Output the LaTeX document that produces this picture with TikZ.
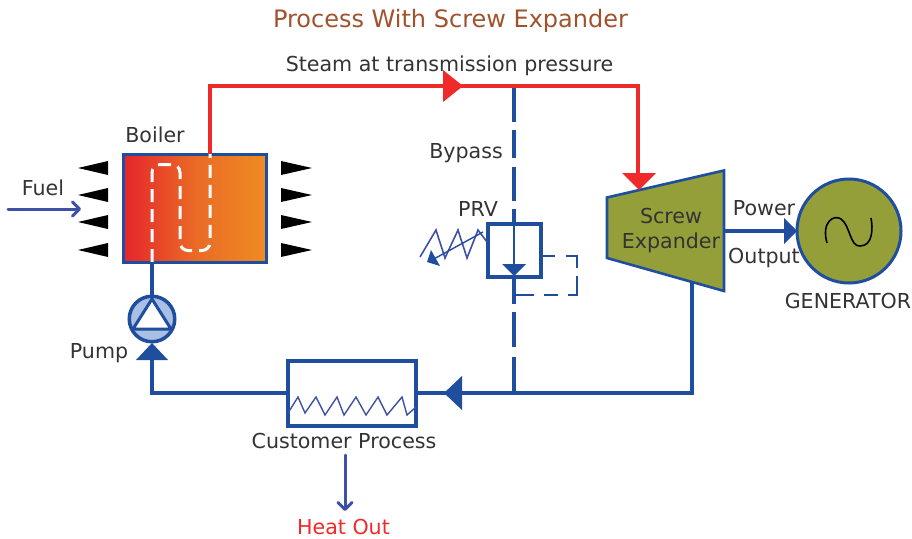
\documentclass[tikz,border=0pt]{standalone}
\usepackage{fontspec}
\setmainfont{DejaVu Sans}
\definecolor{pipeblue}{HTML}{1F4E9E}
\definecolor{fuelblue}{HTML}{3F51A5}
\definecolor{steamred}{HTML}{EE2A2A}
\definecolor{boilred}{HTML}{E5252B}
\definecolor{boilmid}{HTML}{EA6A26}
\definecolor{boilorange}{HTML}{EE8C22}
\definecolor{olive}{HTML}{949F3A}
\definecolor{titlebrown}{HTML}{A0522D}
\definecolor{txt}{HTML}{333333}
\definecolor{pumpfill}{HTML}{A9C0E4}
\usetikzlibrary{arrows.meta,calc}
\tikzset{
 lbl/.style={font=\fontsize{20.6}{24}\selectfont,text=txt,inner sep=0pt},
 pipe/.style={draw=pipeblue,line width=3.2pt},
 steam/.style={draw=steamred,line width=3.2pt},
 thin pipe/.style={draw=pipeblue,line width=1.4pt},
 tipblue/.style={fill=pipeblue,draw=none},
 tipred/.style={fill=steamred,draw=none},
 flame/.style={fill=black,draw=none},
 coil/.style={draw=white,line width=3pt,dash pattern=on 13pt off 7pt},
 box/.style={draw=pipeblue,line width=3.5pt,inner sep=0pt,outer sep=0pt,anchor=north west},
 openarrow/.style={draw=fuelblue,line width=3pt,line cap=round,-{Straight Barb[length=7pt,width=14pt,round]}},
}
\begin{document}
\begin{tikzpicture}[x=1pt,y=-1pt]
\useasboundingbox (0,0) rectangle (912,538);
% labels
\node[lbl,text=titlebrown,font=\fontsize{24}{28}\selectfont] (title) at (450.5,20.5) {Process With Screw Expander};
\node[lbl] (steamlbl) at (449.5,65.5) {Steam at transmission pressure};
\node[lbl] (boilerlbl) at (155,134.5) {Boiler};
\node[lbl] (fuellbl) at (43,187.5) {Fuel};
\node[lbl] (pumplbl) at (99,353) {Pump};
\node[lbl] (bypasslbl) at (466,153.5) {Bypass};
\node[lbl] (prvlbl) at (478,208.5) {PRV};
\node[lbl] (custlbl) at (344,441) {Customer Process};
\node[lbl,text=steamred] (heatlbl) at (343.5,526.5) {Heat Out};
\node[lbl] (powerlbl) at (764,208) {Power};
\node[lbl] (outputlbl) at (764,257.5) {Output};
\node[lbl] (genlbl) at (848,300.5) {GENERATOR};
% boiler
\node[box,left color=boilred,right color=boilorange,middle color=boilmid,shading angle=90,minimum width=143pt,minimum height=108pt] (boiler) at (123.5,154.5) {};
% bypass
\coordinate (tee1) at (514,86);
\coordinate (tee2) at (514,393);
\coordinate (prvtop) at (514,224);
\coordinate (prvbot) at (514,278);
\draw[draw=pipeblue,line width=3.2pt,dash pattern=on 36pt off 8pt on 28pt off 9pt on 34pt off 8pt on 30pt off 0pt] (tee1) -- (prvtop);
\draw[draw=pipeblue,line width=3.2pt,dash pattern=on 26pt off 8pt on 35pt off 10pt on 50pt off 0pt] (prvbot) -- (tee2);
% steam
\coordinate (s1) at (210,86);
\coordinate (s2) at (638,86);
\coordinate (boilout) at (210,154);
\coordinate (expin) at (638,176);
\draw[steam] (boilout) -- (s1) -- (s2) -- (expin);
\path[tipred] (443,70) -- (463,86) -- (443,102) -- cycle;
% coil
\coordinate (coilA) at (152,262);
\coordinate (coilB) at (210,154);
\draw[coil,rounded corners=8pt] (coilA) -- (152,164.5) -- (180,164.5) -- (180,250.5) -- (210,250.5) -- (coilB);
% flames
\foreach \yy in {168,195,222,250}{
 \path[flame] (108,\yy-7) -- (78,\yy) -- (108,\yy+7) -- cycle;
 \path[flame] (281,\yy-7) -- (312,\yy) -- (281,\yy+7) -- cycle;
}
% fuel
\coordinate (fuelstart) at (8,209);
\coordinate (fuelend) at (81,209);
\draw[openarrow] (fuelstart) -- (fuelend);
% expander
\filldraw[fill=olive,draw=pipeblue,line width=2.6pt] (607,197.5) -- (724,170.5) -- (724,291) -- (607,258) -- cycle;
\path[tipred] (622,173) -- (656,173) -- (639,190) -- cycle;
\node[lbl,align=center,font=\fontsize{20.6}{25}\selectfont] (explbl) at (671,230) {Screw\\Expander};
% generator
\node[circle,draw=pipeblue,fill=olive,line width=3pt,minimum size=104pt,inner sep=0pt,outer sep=0pt] (gen) at (849,231) {};
\draw[black,line width=1.6pt] (827,243) .. controls (821,222) and (834,214) .. (841,219) .. controls (850,225) and (850,247) .. (860,246) .. controls (873,246) and (873,228) .. (871,218);
\coordinate (expout) at (724,231);
\draw[pipe] (expout) -- (785,231);
\path[tipblue] (784,218) -- (797,231) -- (784,244) -- cycle;
% return line
\coordinate (expbot) at (692,283);
\coordinate (c1) at (692,393);
\node[box,fill=white,minimum width=128pt,minimum height=65pt] (hx) at (288,361) {};
\draw[pipe] (expbot) -- (c1) -- (hx.east |- c1);
\path[tipblue] (462,376) -- (444,393) -- (462,410) -- cycle;
\draw[draw=fuelblue,line width=1.4pt] (288,413) -- (298,397) -- (305,413) -- (316,397) -- (325,415) -- (337,397) -- (344,415) -- (356,397) -- (366,415) -- (378,397) -- (387,415) -- (402,397) -- (407,415) -- (416,407);
% pump
\node[circle,draw=pipeblue,fill=pumpfill,line width=3.5pt,minimum size=45.5pt,inner sep=0pt,outer sep=0pt] (pump) at (152,319) {};
\filldraw[fill=white,draw=pipeblue,line width=3pt,line join=round] (152,299) -- (133,329) -- (171,329) -- cycle;
\draw[pipe] (coilA) -- (pump.north);
\coordinate (c2) at (152,393);
\draw[pipe] (hx.west |- c2) -- (c2) -- (152,358);
\path[tipblue] (136,360) -- (152,343) -- (168,360) -- cycle;
% PRV
\node[box,fill=white,minimum width=53pt,minimum height=53pt] (prv) at (488,224) {};
\draw[thin pipe] (prvtop) -- (514,265);
\path[tipblue] (502,264) -- (526,264) -- (514,276) -- cycle;
\coordinate (ctl1) at (577,256);
\coordinate (ctl2) at (577,295);
\coordinate (ctl3) at (514,295);
\draw[draw=pipeblue,line width=2pt,dash pattern=on 14pt off 11pt on 23pt off 8pt on 28pt off 10pt on 14pt off 10pt on 19pt off 0pt] (prv.east |- ctl1) -- (ctl1) -- (ctl2) -- (ctl3);
\draw[thin pipe,draw=fuelblue,line width=1.6pt] (420,257) -- (436,230) -- (445,258) -- (458,230) -- (467,258) -- (478,230) -- (487,242);
\draw[thin pipe] (483,232) -- (432,260);
\path[tipblue] (431,250) -- (427,262) -- (440,266) -- cycle;
% heat out
\coordinate (heat1) at (345,455);
\coordinate (heat2) at (345,511);
\draw[openarrow] (heat1) -- (heat2);
\end{tikzpicture}
\end{document}
